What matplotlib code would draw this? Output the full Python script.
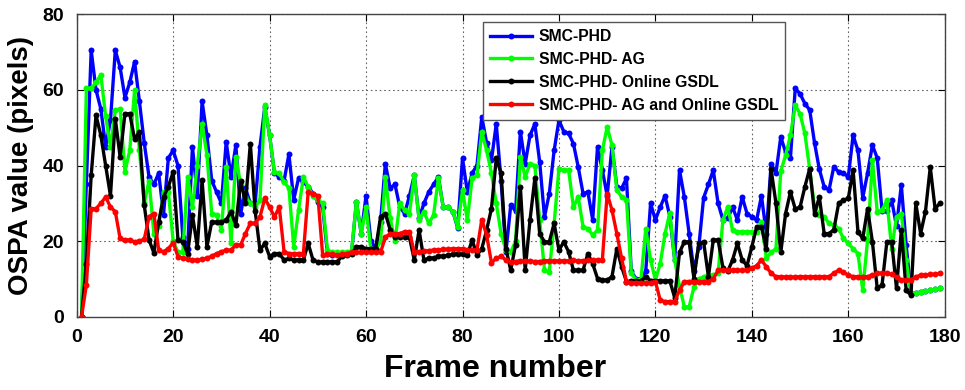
import numpy as np
import matplotlib
matplotlib.use("Agg")
import matplotlib.pyplot as plt

plt.rcParams['font.family'] = ['Liberation Sans', 'DejaVu Sans']

frames = np.arange(1, 180)

smc_phd = [
    0, 35, 70.5, 60, 55, 45, 52, 70.5, 66, 58,
    62, 67.5, 57, 46, 37, 35, 38, 27, 42, 44,
    40, 21, 18, 45, 32, 57, 48, 36, 33, 30,
    46.3, 37, 45.4, 27.3, 34, 30, 30, 45, 55.5, 48,
    38, 37, 36, 43, 31, 36.6, 35.7, 34.4, 32.6, 30.4,
    29, 16.5, 16.3, 16.5, 16.5, 16.7, 17, 30.4, 22, 32,
    20, 18, 25, 40.5, 34, 35, 29, 27.3, 32, 37.4,
    26, 30, 33, 35, 37, 29, 29, 27.8, 23.5, 41.9,
    33, 38, 40, 52.9, 46, 41.4, 51, 36, 17, 29.5,
    28, 49, 40.5, 48, 51, 41, 26.4, 32.6, 44, 52,
    49, 48.5, 45.8, 39.6, 32.6, 33, 25.6, 45, 38.8, 32,
    45, 34.4, 34, 36.6, 12, 10, 10, 12, 30, 25.6,
    29, 32, 26.5, 15, 38.8, 31.7, 22, 12, 18.5, 31.5,
    35, 38.8, 30, 25.6, 26, 29, 25.6, 31.7, 27.3, 26.4,
    25.6, 32, 22, 40.5, 38, 47.6, 43.5, 42, 60.4, 59,
    56.4, 54.7, 46, 39, 34.4, 33.5, 39.7, 38.3, 38, 37,
    48, 44, 31.5, 38, 45.4, 42, 28, 28, 30.8, 24,
    34.8, 19, 6.2, 6.3, 6.5, 6.8, 7, 7.2, 7.5,
]

smc_phd_ag = [
    0, 60.4, 60.4, 62, 64, 53, 45, 54.7, 55, 38.4,
    44, 60, 44, 30, 36, 22, 24, 33, 33, 20,
    17, 17, 37, 29, 40, 51, 42.8, 27.3, 27, 23,
    39.6, 19.4, 42.3, 35, 31.7, 30, 29, 30.8, 56, 48,
    38.3, 37.9, 35.7, 34, 18.5, 28.2, 37, 34.4, 32, 30.8,
    30, 17.6, 17, 17, 17, 17, 17.5, 30.4, 22, 29,
    17.6, 17.6, 20, 37, 26, 20, 30, 28.2, 27.3, 37.4,
    25.6, 27.8, 24.7, 26.9, 36.6, 29, 29, 27.8, 23.8, 33.5,
    25.6, 36.6, 37.4, 48.9, 44, 38, 30, 22, 17.6, 17,
    20, 42.3, 37, 40.5, 40, 25.6, 12.3, 11.9, 24.7, 39.2,
    38.8, 38.8, 29, 31.7, 23.8, 23.3, 21.6, 22.9, 44, 50.2,
    45.4, 33.5, 31.7, 31, 11.5, 9.7, 9.7, 23.3, 15, 9.7,
    14, 22, 27.5, 15, 8, 2.6, 2.6, 7.9, 10, 10.5,
    11, 11, 11.5, 25.6, 29, 22.9, 22.5, 22.5, 22.5, 22.5,
    22.5, 25.1, 15.5, 17, 18, 38.5, 42.7, 48, 56, 53.7,
    48.5, 39, 29, 27, 26.4, 24.7, 24.2, 23.3, 20.7, 19.4,
    18, 16.7, 7, 20.3, 41.4, 27.8, 28.2, 30.8, 18, 26.4,
    27.3, 15, 6.2, 6.3, 6.5, 6.8, 7, 7.2, 7.5,
]

smc_phd_gsdl = [
    0, 14, 37.4, 53.3, 48, 40, 32, 52.4, 42.3, 53.7,
    53.7, 47, 48.9, 29.5, 20.3, 16.9, 25, 31.7, 34.4, 38.3,
    20.3, 19.8, 16.7, 26.9, 18.5, 36.1, 18.5, 25.1, 25, 25,
    25.6, 27.8, 24.2, 36, 30, 45.8, 28, 17.6, 19.4, 15.9,
    16.7, 16.7, 15, 15.4, 15, 15, 15, 19.4, 15, 14.5,
    14.5, 14.5, 14.5, 14.5, 16, 16.3, 16.5, 18.5, 18.5, 18,
    18, 18, 26.4, 27.3, 23, 21, 21, 21, 21, 15,
    22.9, 15, 15.5, 15.5, 16, 16, 16.3, 16.5, 16.7, 16.5,
    16.3, 20.3, 16.3, 18, 22.9, 28.6, 41.9, 38, 18, 12.3,
    19, 34.4, 12.3, 25.6, 36.6, 22, 19.8, 19.8, 24.7, 17.6,
    19.8, 17.2, 12.3, 12.3, 12.3, 16.7, 14, 10.1, 9.7, 9.7,
    10.6, 18, 13.2, 9.3, 9.5, 9.5, 9.5, 10.6, 9.5, 9.5,
    9.5, 9.5, 9.5, 5, 17, 19.8, 19.8, 10.1, 19.4, 19.8,
    10.6, 20.3, 20.3, 13, 12, 15, 19.4, 15, 13.5, 18.5,
    23.8, 23.8, 18, 39, 30, 17, 27.3, 33, 28.5, 29,
    34.4, 39.2, 27.3, 31.7, 22, 22, 23, 30, 30.8, 31.3,
    38.8, 22.5, 20.7, 28.6, 19.8, 7.5, 8.4, 19.8, 19.8, 7.5,
    22.9, 7, 5.7, 30, 22, 27.8, 39.6, 28.6, 30,
]

smc_phd_ag_gsdl = [
    0, 8.4, 28.6, 28.6, 30, 31.7, 29, 27.8, 20.7, 20.3,
    20.3, 19.8, 20, 20.5, 26.4, 27.3, 17.6, 17.2, 18, 19.6,
    15.9, 15.5, 15.2, 15, 15, 15.2, 15.5, 16, 16.7, 17.2,
    17.6, 17.6, 19, 19, 22, 24.7, 24.7, 26.4, 31.3, 29,
    26.4, 29, 17.2, 16.7, 16.7, 16.7, 16.7, 33, 32.6, 32,
    16.3, 16.5, 16.5, 16.3, 16.5, 16.7, 17, 17, 17, 17,
    17, 17, 17, 21, 22, 22, 22, 22.5, 22.5, 17,
    17.2, 17.3, 17.5, 17.6, 17.7, 17.8, 17.8, 18, 18, 18,
    17.6, 17.6, 17.6, 25.7, 21.6, 14.3, 15.4, 16, 15, 14.5,
    14.6, 14.8, 14.8, 14.7, 14.6, 14.6, 14.8, 14.8, 14.7, 14.8,
    14.8, 14.8, 14.9, 14.8, 14.8, 14.9, 15, 15, 15, 32.6,
    28.2, 22, 15.4, 9.3, 9, 9, 9, 9, 9, 9.3,
    4.4, 4, 4, 4, 7, 9.3, 9.3, 9.3, 9.3, 9.3,
    9.3, 10, 12.3, 12.3, 12.3, 12.3, 12.3, 12.3, 12.3, 12.8,
    13.5, 15, 13.2, 11.5, 10.6, 10.6, 10.5, 10.5, 10.5, 10.6,
    10.6, 10.6, 10.6, 10.6, 10.6, 10.6, 11.5, 12.3, 11.8, 11,
    10.6, 10.6, 10.6, 10.6, 11, 11.5, 11.5, 11.5, 11.2, 10.5,
    9.7, 9.7, 9.7, 10.5, 11, 11, 11.2, 11.2, 11.5,
]

series = [
    ("SMC-PHD", smc_phd, "#0000FF"),
    ("SMC-PHD- AG", smc_phd_ag, "#00FF00"),
    ("SMC-PHD- Online GSDL", smc_phd_gsdl, "#000000"),
    ("SMC-PHD- AG and Online GSDL", smc_phd_ag_gsdl, "#FF0000"),
]

xticks = list(range(0, 181, 20))
yticks = [0, 20, 40, 60, 80]

fig = plt.figure(figsize=(9.65, 3.9), dpi=100)
ax = fig.add_axes([0.0795, 0.188, 0.8995, 0.775])

for label, vals, color in series:
    ax.plot(frames, vals, color=color, lw=2.4, marker="o", ms=4.3,
            mew=0, label=label)

ax.set_xlim(0, 180)
ax.set_ylim(0, 80)
ax.set_xticks(xticks)
ax.set_yticks(yticks)
ax.grid(True, linestyle=(0, (1.5, 2.5)), color="#666666", lw=0.8)
ax.tick_params(direction="in", top=True, right=True, length=5, width=0.8,
               labelsize=14, pad=9)
for t in ax.get_xticklabels() + ax.get_yticklabels():
    t.set_fontweight("bold")
for s in ax.spines.values():
    s.set_color("#444444")
    s.set_linewidth(1.0)

ax.set_xlabel("Frame number", fontsize=23, fontweight="bold", labelpad=5)
ax.xaxis.set_label_coords(0.482, -0.125)
ax.set_ylabel("OSPA value (pixels)", fontsize=20, fontweight="bold", labelpad=6)

leg = ax.legend(loc="upper left", bbox_to_anchor=(0.468, 0.975), borderaxespad=0,
                numpoints=1, handlelength=2.7, fancybox=False, framealpha=1,
                edgecolor="#555555", prop={"weight": "bold", "size": 11.3},
                labelspacing=0.5, borderpad=0.45, handletextpad=0.4)
leg.get_frame().set_linewidth(1.0)

fig.savefig("out.png", dpi=100)
